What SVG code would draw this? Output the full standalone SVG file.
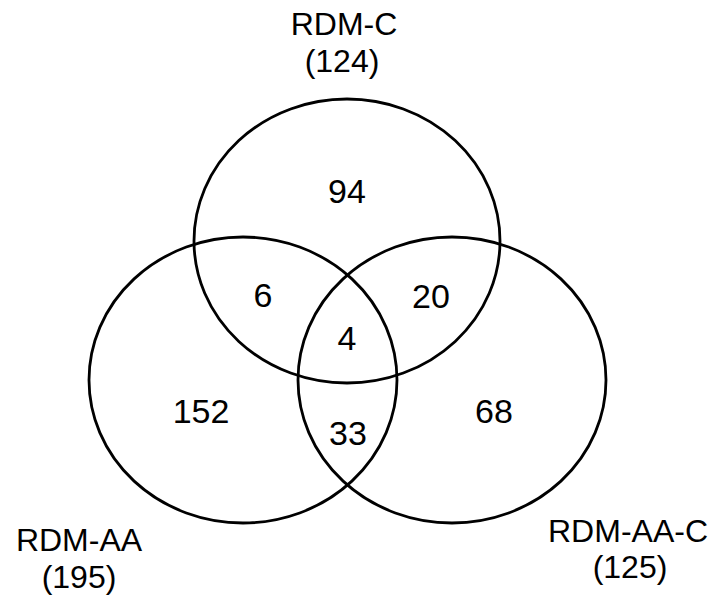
<svg xmlns="http://www.w3.org/2000/svg" width="717" height="601" viewBox="0 0 717 601">
<style>
.set{fill:none;stroke:#000;stroke-width:2.8}
text{font-family:"Liberation Sans",Arial,sans-serif;font-size:34px;fill:#000;text-anchor:middle}
.lbl{font-size:32px}
</style>
<rect width="717" height="601" fill="#fff"/>
<g id="set-rdm-c">
<ellipse class="set" cx="347" cy="241" rx="153" ry="142"/>
<text class="lbl" x="344" y="35">RDM-C</text>
<text class="lbl" x="342" y="72">(124)</text>
</g>
<g id="set-rdm-aa">
<ellipse class="set" cx="243" cy="380" rx="154" ry="143"/>
<text class="lbl" x="79" y="551">RDM-AA</text>
<text class="lbl" x="79" y="588">(195)</text>
</g>
<g id="set-rdm-aa-c">
<ellipse class="set" cx="452" cy="380" rx="154" ry="143"/>
<text class="lbl" x="628" y="542">RDM-AA-C</text>
<text class="lbl" x="630" y="578">(125)</text>
</g>
<g id="regions">
<text x="347" y="203">94</text>
<text x="263" y="307">6</text>
<text x="431" y="308">20</text>
<text x="347" y="350">4</text>
<text x="201" y="423">152</text>
<text x="348" y="445">33</text>
<text x="494" y="423">68</text>
</g>
<g id="connectors"></g>
</svg>
